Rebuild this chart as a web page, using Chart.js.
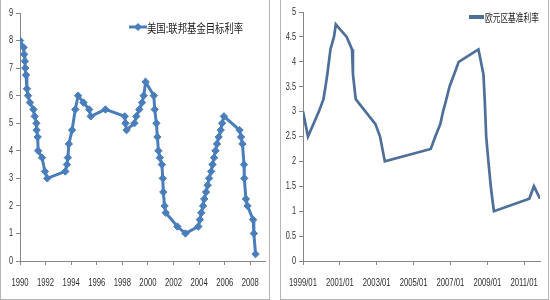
<!DOCTYPE html>
<html>
<head>
<meta charset="utf-8">
<script src="https://cdn.jsdelivr.net/npm/chart.js@4"></script>
<style>
html,body{margin:0;padding:0;background:#fff;}
body{width:550px;height:300px;position:relative;overflow:hidden;}
.frame{position:absolute;box-sizing:border-box;border:1px solid #b4b4b4;}
canvas{position:absolute;}
</style>
</head>
<body>
<div class="frame" style="left:0;top:-1px;width:270px;height:301px;"></div>
<div class="frame" style="left:280px;top:-1px;width:269px;height:301px;"></div>
<canvas id="cUS" width="270" height="300" style="left:0;top:0;width:270px;height:300px;"></canvas>
<canvas id="cEU" width="270" height="300" style="left:280px;top:0;width:270px;height:300px;"></canvas>
<script>
// ---------- Data ----------
const usLabel = '美国:联邦基金目标利率';
const usDates = [1990.00,1990.28,1990.32,1990.38,1990.41,1990.47,1990.54,1990.63,1990.78,1991.05,
  1991.15,1991.28,1991.30,1991.38,1991.42,1991.72,1991.95,1992.13,1993.54,1993.67,
  1993.74,1993.82,1994.07,1994.32,1994.54,1994.96,1995.41,1995.53,1996.68,1998.19,
  1998.24,1998.33,1998.94,1999.09,1999.32,1999.54,1999.67,1999.82,2000.46,2000.53,
  2000.66,2000.74,2000.82,2000.93,2001.09,2001.16,2001.20,2001.30,2001.39,2002.30,
  2002.93,2003.94,2004.06,2004.17,2004.31,2004.40,2004.54,2004.67,2004.78,2004.94,
  2005.05,2005.17,2005.28,2005.40,2005.53,2005.69,2005.80,2005.94,2007.16,2007.28,
  2007.39,2007.51,2007.53,2007.66,2007.78,2008.22,2008.28,2008.41];
const usRates = [8.00,7.75,7.50,7.25,7.00,6.75,6.25,6.00,5.75,5.50,
  5.25,5.00,4.75,4.50,4.00,3.75,3.25,3.00,3.25,3.50,
  3.75,4.25,4.75,5.50,6.00,5.75,5.50,5.25,5.50,5.25,
  5.00,4.75,5.00,5.25,5.50,5.75,6.00,6.50,6.00,5.50,
  5.00,4.50,4.00,3.75,3.50,3.00,2.50,2.00,1.75,1.25,
  1.00,1.25,1.50,1.75,2.00,2.25,2.50,2.75,3.00,3.25,
  3.50,3.75,4.00,4.25,4.50,4.75,5.00,5.25,4.75,4.50,
  4.25,3.50,3.00,2.25,2.00,1.50,1.00,0.25];
const usYearTicks = [1990,1992,1994,1996,1998,2000,2002,2004,2006,2008];
const usTickLabels = ['1990','1992','1994','1996','1998','2000','2002','2004','2006','2008'];
const usYTicks = [0,1,2,3,4,5,6,7,8,9];

const euLabel = '欧元区基准利率';
const euDates = [1999.00,1999.27,1999.86,2000.11,2000.22,2000.32,2000.49,2000.68,2000.78,2001.37,
  2001.66,2001.71,2001.86,2002.93,2003.18,2003.44,2005.93,2006.18,2006.45,2006.60,
  2006.78,2006.95,2007.20,2007.45,2008.52,2008.79,2008.86,2008.94,2009.06,2009.19,
  2009.27,2009.36,2011.28,2011.53,2011.86];
const euRates = [3.00,2.50,3.00,3.25,3.50,3.75,4.25,4.50,4.75,4.50,
  4.25,3.75,3.25,2.75,2.50,2.00,2.25,2.50,2.75,3.00,
  3.25,3.50,3.75,4.00,4.25,3.75,3.25,2.50,2.00,1.50,
  1.25,1.00,1.25,1.50,1.25];
const euYearTicks = [1999,2001,2003,2005,2007,2009,2011];
const euTickLabels = ['1999/01','2001/01','2003/01','2005/01','2007/01','2009/01','2011/01'];
const euYTicks = [0,0.5,1,1.5,2,2.5,3,3.5,4,4.5,5];

// ---------- Styles ----------
const usColor = '#4A7EBB';
const euColor = '#4E6F9A';
const axisColor = '#868686';
const tickFont = {family:"'Liberation Sans', Arial, sans-serif", size:11};
const tickColor = '#2e2e2e';
const tickSqueeze = 0.7;

function zip(xs, ys){ return xs.map((x,i)=>({x:x, y:ys[i]})); }

// Condense the library's own tick labels horizontally (narrow Excel-like font)
const condenseTicks = {
  id:'condenseTicks',
  beforeDraw(chart){
    Object.values(chart.scales).forEach(s=>{
      if (s._condensed) return;
      const orig = s.drawLabels.bind(s);
      s.drawLabels = function(area){
        const ctx = this.ctx;
        const proto = Object.getPrototypeOf(ctx);
        const origRotate = proto.rotate;
        ctx.rotate = function(a){ origRotate.call(this, a); this.scale(tickSqueeze, 1); };
        try { orig(area); } finally { delete ctx.rotate; }
      };
      s._condensed = true;
    });
  }
};

function customLegend(cfg){
  return {
    id:'customLegend',
    afterDraw(chart){
      const ctx = chart.ctx;
      const ds = chart.data.datasets[0];
      ctx.save();
      ctx.strokeStyle = ds.borderColor;
      ctx.lineWidth = cfg.lineWidth;
      ctx.beginPath();
      ctx.moveTo(cfg.x0, cfg.y);
      ctx.lineTo(cfg.x1, cfg.y);
      ctx.stroke();
      if (cfg.marker){
        const cx=(cfg.x0+cfg.x1)/2, r=cfg.marker;
        ctx.fillStyle = ds.borderColor;
        ctx.beginPath();
        ctx.moveTo(cx, cfg.y-r); ctx.lineTo(cx+r, cfg.y); ctx.lineTo(cx, cfg.y+r); ctx.lineTo(cx-r, cfg.y);
        ctx.closePath(); ctx.fill();
      }
      ctx.translate(cfg.tx, cfg.y);
      ctx.scale(cfg.sx, 1);
      ctx.fillStyle = '#1a1a1a';
      ctx.font = cfg.fontSize + "px 'Noto Sans CJK SC', sans-serif";
      ctx.textBaseline = 'middle';
      ctx.textAlign = 'left';
      ctx.fillText(ds.label, 0, 1);
      ctx.restore();
    }
  };
}

function makeOptions(xmin, xmax, xTicks, xLabels, ymax, yTicks, yAxisWidth, padding){
  return {
    responsive:false,
    animation:false,
    layout:{padding:padding},
    plugins:{legend:{display:false}, tooltip:{enabled:false}},
    scales:{
      x:{
        type:'linear', min:xmin, max:xmax,
        afterBuildTicks(s){ s.ticks = xTicks.map(v=>({value:v})); },
        afterFit(s){ s.height = 39; s.paddingLeft = 0; s.paddingRight = 0; },
        ticks:{
          autoSkip:false, maxRotation:0, minRotation:0, padding:11,
          font:tickFont, color:tickColor,
          callback(v){ const i = xTicks.indexOf(v); return i>=0 ? xLabels[i] : ''; }
        },
        grid:{display:true, drawOnChartArea:false, drawTicks:true, tickLength:4, color:axisColor},
        border:{display:true, color:axisColor, width:1}
      },
      y:{
        type:'linear', min:0, max:ymax,
        afterBuildTicks(s){ s.ticks = yTicks.map(v=>({value:v})); },
        afterFit(s){ s.width = yAxisWidth; s.paddingTop = 0; s.paddingBottom = 0; },
        ticks:{padding:3, font:{family:tickFont.family, size:10.5}, color:tickColor, callback(v){ return String(v); }},
        grid:{display:true, drawOnChartArea:false, drawTicks:true, tickLength:4, color:axisColor},
        border:{display:true, color:axisColor, width:1}
      }
    }
  };
}

new Chart(document.getElementById('cUS'), {
  type:'line',
  data:{datasets:[{
    label:usLabel,
    data:zip(usDates, usRates),
    borderColor:usColor, backgroundColor:usColor,
    borderWidth:3, pointStyle:'rectRot', pointRadius:3.7,
    pointBackgroundColor:usColor, pointBorderColor:usColor, pointBorderWidth:1,
    tension:0, fill:false
  }]},
  options:makeOptions(1990, 2009.15, usYearTicks, usTickLabels, 9, usYTicks, 20, {left:0, top:13, right:3, bottom:0}),
  plugins:[condenseTicks, customLegend({x0:129, x1:147, y:27, lineWidth:3, marker:4, tx:147, sx:0.78, fontSize:12})]
});

new Chart(document.getElementById('cEU'), {
  type:'line',
  data:{datasets:[{
    label:euLabel,
    data:zip(euDates, euRates),
    borderColor:euColor, backgroundColor:euColor,
    borderWidth:2.7, pointRadius:0,
    tension:0, fill:false
  }]},
  options:makeOptions(1999, 2011.86, euYearTicks, euTickLabels, 5, euYTicks, 23, {left:0, top:12, right:10, bottom:0}),
  plugins:[condenseTicks, customLegend({x0:189, x1:204, y:17, lineWidth:4, marker:0, tx:205, sx:0.7, fontSize:11})]
});
</script>
</body>
</html>
